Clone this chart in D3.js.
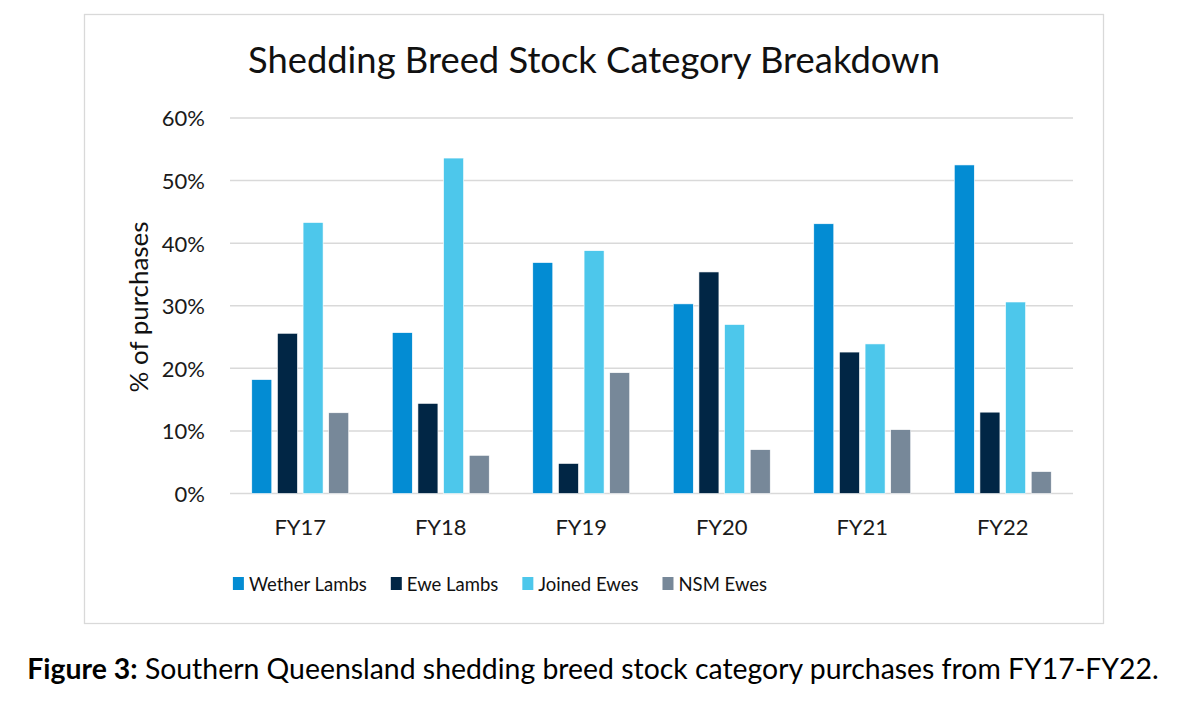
<!DOCTYPE html>
<html>
<head>
<meta charset="utf-8">
<script src="https://cdn.jsdelivr.net/npm/d3@7"></script>
<style>
  html, body { margin: 0; padding: 0; background: #fff; }
  svg { display: block; font-family: Lato, "Open Sans", sans-serif; }
</style>
</head>
<body>
<svg id="chart" width="1180" height="704"></svg>
<script>
const categories = ["FY17", "FY18", "FY19", "FY20", "FY21", "FY22"];
const seriesNames = ["Wether Lambs", "Ewe Lambs", "Joined Ewes", "NSM Ewes"];
const wetherLambs = [18.2, 25.7, 36.9, 30.3, 43.1, 52.5];
const eweLambs    = [25.6, 14.4, 4.8, 35.4, 22.6, 13.0];
const joinedEwes  = [43.3, 53.6, 38.8, 27.0, 23.9, 30.6];
const nsmEwes     = [12.9, 6.1, 19.3, 7.0, 10.2, 3.5];
const yTicks = [0, 10, 20, 30, 40, 50, 60];
const colors = ["#038cd3", "#012645", "#4dc7eb", "#778899"];

const seriesValues = [wetherLambs, eweLambs, joinedEwes, nsmEwes];
const data = categories.map((c, i) => ({
  cat: c,
  vals: seriesNames.map((s, j) => ({ key: s, value: seriesValues[j][i], color: colors[j] }))
}));

const svg = d3.select("#chart");

function fit(sel, target) {
  const node = sel.node();
  const w = node.getComputedTextLength();
  const fs = parseFloat(sel.attr("font-size"));
  sel.attr("font-size", fs * target / w);
}

// frame
svg.append("rect").attr("x", 84.5).attr("y", 14.5).attr("width", 1019).attr("height", 609)
  .attr("fill", "#fff").attr("stroke", "#d9d9d9").attr("stroke-width", 1.3);

const plotL = 230, plotR = 1073, plotT = 118, plotB = 493.5;
const x0 = d3.scaleBand().domain(categories).range([plotL, plotR]).paddingInner(0.31).paddingOuter(0.155);
const x1 = d3.scaleBand().domain(seriesNames).range([0, x0.bandwidth()]).paddingInner(0.22);
const y = d3.scaleLinear().domain([0, 60]).range([plotB, plotT]);

// gridlines
svg.append("g").selectAll("line").data(yTicks).join("line")
  .attr("x1", plotL).attr("x2", plotR)
  .attr("y1", d => y(d)).attr("y2", d => y(d))
  .attr("stroke", "#d9d9d9").attr("stroke-width", 1.5);

// y axis labels
const yAxis = d3.axisLeft(y).tickValues(yTicks).tickFormat(d => d + "%").tickSize(0).tickPadding(25);
const ya = svg.append("g").attr("transform", `translate(${plotL},0)`).call(yAxis);
ya.select(".domain").remove();
ya.selectAll("text").attr("font-size", 22).attr("fill", "#1a1a1a")
  .attr("font-family", "Lato, sans-serif").attr("dy", "0.36em");

// bars
const g = svg.append("g").selectAll("g").data(data).join("g")
  .attr("transform", d => `translate(${x0(d.cat)},0)`);
g.selectAll("rect").data(d => d.vals).join("rect")
  .attr("x", d => x1(d.key))
  .attr("width", x1.bandwidth())
  .attr("y", d => y(d.value))
  .attr("height", d => plotB - y(d.value))
  .attr("fill", d => d.color)
  .attr("stroke", "#ffffff").attr("stroke-width", 0.6);

// x axis labels
const xAxis = d3.axisBottom(x0).tickSize(0).tickPadding(0);
const xa = svg.append("g").attr("transform", `translate(0,${plotB})`).call(xAxis);
xa.select(".domain").remove();
xa.selectAll("text").attr("font-size", 22).attr("fill", "#1a1a1a")
  .attr("font-family", "Lato, sans-serif").attr("dy", 0).attr("y", 41.5);

// title
const title = svg.append("text").attr("x", 594).attr("y", 73).attr("text-anchor", "middle")
  .attr("font-size", 36).attr("fill", "#111").text("Shedding Breed Stock Category Breakdown");
fit(title, 692);

// y title
const yt = svg.append("text").attr("transform", "translate(148,307) rotate(-90)")
  .attr("text-anchor", "middle").attr("font-size", 22).attr("fill", "#111").text("% of purchases");
fit(yt, 171);

// legend (laid out by measured text widths, centred like the reference)
const legG = svg.append("g");
const leg = legG.selectAll("g").data(seriesNames).join("g");
leg.append("rect").attr("x", 0).attr("y", 577).attr("width", 11).attr("height", 13)
  .attr("fill", (d, i) => colors[i]);
leg.append("text").attr("x", 16).attr("y", 591).attr("font-size", 18.5).attr("fill", "#111")
  .text(d => d);
let cursor = 0;
const offsets = [];
leg.each(function() {
  offsets.push(cursor);
  const w = d3.select(this).select("text").node().getComputedTextLength();
  cursor += 16 + w + 24;
});
const totalW = cursor - 24;
const startX = 500 - totalW / 2;
leg.attr("transform", (d, i) => `translate(${startX + offsets[i]},0)`);

// caption
const cap = svg.append("text").attr("x", 593).attr("y", 679).attr("text-anchor", "middle")
  .attr("font-size", 26).attr("fill", "#000");
cap.append("tspan").attr("font-weight", "bold").text("Figure 3:");
cap.append("tspan").text(" Southern Queensland shedding breed stock category purchases from FY17-FY22.");
fit(cap, 1132);
</script>
</body>
</html>
